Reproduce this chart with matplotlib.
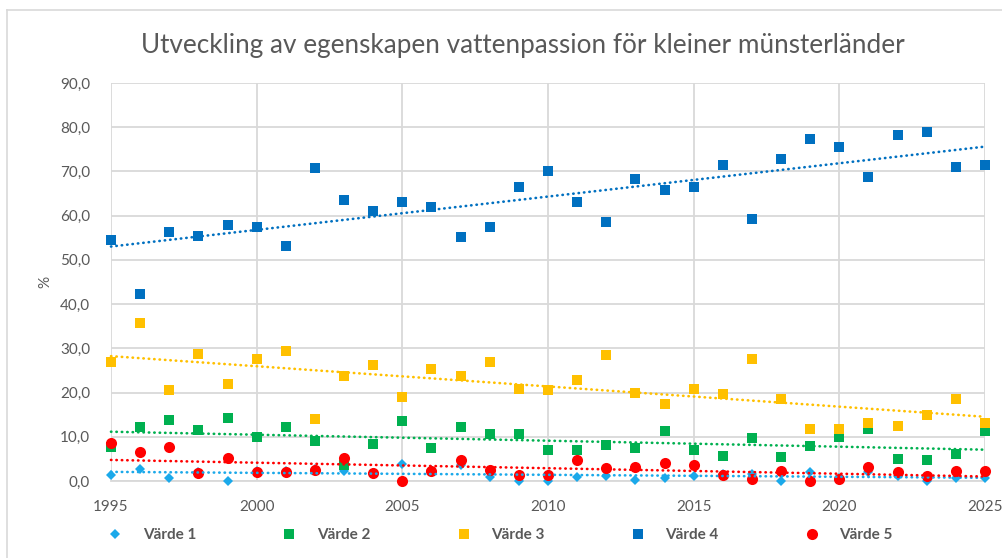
import numpy as np
import matplotlib
matplotlib.use("Agg")
import matplotlib.pyplot as plt
from matplotlib.ticker import FuncFormatter, MultipleLocator
from matplotlib.lines import Line2D

plt.rcParams['font.family'] = ['Lato', 'DejaVu Sans']

title = "Utveckling av egenskapen vattenpassion för kleiner münsterländer"
ylabel = "%"
series_names = ["Värde 1", "Värde 2", "Värde 3", "Värde 4", "Värde 5"]

years = list(range(1995, 2026))
varde1 = [1.4, 2.7, 0.6, 2.0, 0.0, 2.2, 2.2, 2.7, 2.3, 1.8, 3.8, 2.5, 3.6, 1.0, 0.0, 0.0,
          1.0, 1.2, 0.2, 0.6, 1.2, 1.5, 1.5, 0.1, 2.1, 0.6, 2.1, 1.2, 0.0, 0.6, 0.6]
varde2 = [7.8, 12.1, 13.9, 11.5, 14.2, 10.0, 12.1, 9.1, 3.6, 8.4, 13.5, 7.4, 12.1, 10.6, 10.6, 7.1,
          7.1, 8.1, 7.4, 11.2, 7.1, 5.7, 9.7, 5.4, 8.0, 10.0, 11.7, 5.0, 4.7, 6.0, 11.4]
varde3 = [26.8, 35.8, 20.6, 28.7, 21.9, 27.7, 29.4, 14.1, 23.8, 26.3, 18.9, 25.3, 23.7, 27.0, 20.9, 20.6,
          22.9, 28.4, 20.0, 17.5, 20.7, 19.6, 27.7, 18.6, 11.8, 11.8, 13.2, 12.4, 14.9, 18.6, 13.2]
varde4 = [54.5, 42.3, 56.3, 55.3, 57.9, 57.5, 53.2, 70.7, 63.6, 61.0, 63.0, 62.0, 55.2, 57.5, 66.4, 70.1,
          63.0, 58.6, 68.4, 65.7, 66.4, 71.5, 59.3, 72.9, 77.3, 75.6, 68.8, 78.3, 79.0, 71.1, 71.5]
varde5 = [8.6, 6.6, 7.6, 1.7, 5.3, 2.1, 2.1, 2.6, 5.3, 1.7, 0.0, 2.3, 4.7, 2.6, 1.3, 1.3,
          4.7, 3.0, 3.2, 4.0, 3.6, 1.3, 0.4, 2.3, 0.0, 0.4, 3.2, 2.0, 1.1, 2.3, 2.3]

all_series = [varde1, varde2, varde3, varde4, varde5]
colors = ["#1BA9EA", "#00B050", "#FFC000", "#0070C0", "#FF0000"]
markers = ["D", "s", "s", "s", "o"]
msizes = [5.5, 7, 7, 7, 8]

TXT = "#595959"
GRID = "#d9d9d9"

fig = plt.figure(figsize=(10.03, 5.58), dpi=100)
ax = fig.add_axes([111/1003, 1-481/558, (985-111)/1003, (481-83)/558])

x = np.array(years, dtype=float)
handles = []
for i, (vals, c, m, ms, name) in enumerate(zip(all_series, colors, markers, msizes, series_names)):
    h, = ax.plot(x, vals, linestyle="none", marker=m, color=c, markersize=ms,
                 markeredgewidth=0, zorder=3 + i * 0.1, clip_on=False, label=name)
    handles.append(h)
for i, (vals, c) in enumerate(zip(all_series, colors)):
    k, b = np.polyfit(x, np.array(vals), 1)
    xt = np.array([years[0], years[-1]], dtype=float)
    ax.plot(xt, k * xt + b, linestyle=(0, (0.15, 1.9)), color=c, linewidth=1.9,
            dash_capstyle="round", zorder=4, clip_on=False)

ax.set_xlim(1995, 2025)
ax.set_ylim(0, 90)
ax.xaxis.set_major_locator(MultipleLocator(5))
ax.yaxis.set_major_locator(MultipleLocator(10))
ax.yaxis.set_major_formatter(FuncFormatter(lambda v, p: f"{v:.1f}".replace(".", ",")))
ax.grid(True, color=GRID, linewidth=1.3, zorder=0)
ax.set_axisbelow(True)
for s in ["top", "right", "left"]:
    ax.spines[s].set_visible(False)
ax.spines["bottom"].set_color(GRID)
ax.spines["bottom"].set_linewidth(1.3)
ax.tick_params(axis="both", length=0, labelsize=11, labelcolor=TXT)
ax.tick_params(axis="x", pad=14)
ax.tick_params(axis="y", pad=15)

fig.text(45/1003, 1-282/558, ylabel, rotation=90, ha="center", va="center",
         fontsize=11, color=TXT)
fig.text(523/1003, 1-45/558, title, ha="center", va="center", fontsize=18.8, color=TXT)

leg = fig.legend(handles=handles, loc="center", bbox_to_anchor=(500/1003, 1-535/558),
                 ncol=5, frameon=False, handlelength=1.0, handletextpad=1.3,
                 columnspacing=5.6, prop={"size": 11, "weight": "bold"})
for t in leg.get_texts():
    t.set_color(TXT)

# chart border (partially visible)
fig.add_artist(Line2D([7/1003, 7/1003], [0, 1-10/558], color=GRID, linewidth=1.2))
fig.add_artist(Line2D([7/1003, 1], [1-10/558, 1-10/558], color=GRID, linewidth=1.2))

fig.savefig("out.png", dpi=100)
